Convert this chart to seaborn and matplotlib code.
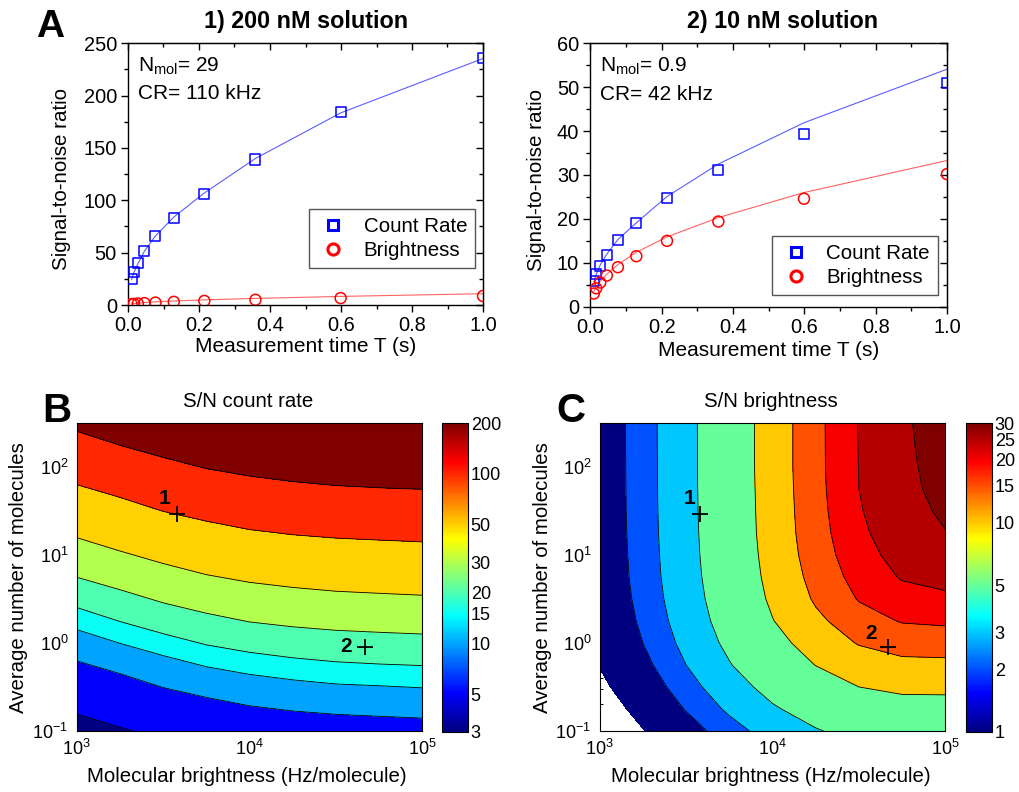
import numpy as np
import matplotlib
matplotlib.use('Agg')
import matplotlib.pyplot as plt
import seaborn as sns
from matplotlib.colors import ListedColormap, LogNorm
from matplotlib.lines import Line2D
from matplotlib import ticker
from matplotlib.cm import ScalarMappable

sns.set_style('ticks')
plt.rcParams['font.family'] = ['Liberation Sans', 'DejaVu Sans']
plt.rcParams['mathtext.fontset'] = 'custom'
plt.rcParams['mathtext.rm'] = 'Liberation Sans'
plt.rcParams['mathtext.it'] = 'Liberation Sans:italic'
plt.rcParams['mathtext.bf'] = 'Liberation Sans:bold'
for k in ['axes.edgecolor', 'text.color', 'xtick.color', 'ytick.color', 'axes.labelcolor']:
    plt.rcParams[k] = 'black'

# ---------------- data ----------------
T = [0.01, 0.0167, 0.0278, 0.0464, 0.0774, 0.129, 0.215, 0.359, 0.599, 1.0]
a1_cr_pts = [24.5, 31.2, 39.8, 51.9, 65.9, 83.1, 106, 139, 184, 235.5]
a1_cr_fit = [24, 31, 39.5, 51.5, 66, 84, 107, 140, 183.5, 235.5]
a1_b_pts = [0.9, 1.1, 1.4, 1.8, 2.3, 3.0, 3.9, 5.0, 6.6, 8.6]
a1_b_fit = [1.1, 1.4, 1.8, 2.3, 3.0, 3.8, 4.9, 6.3, 8.2, 10.8]
a2_cr_pts = [5.85, 7.4, 9.3, 11.8, 15.1, 19.0, 24.75, 31.1, 39.3, 50.9]
a2_cr_fit = [5.7, 7.4, 9.5, 12.0, 15.3, 19.1, 25.1, 32.5, 41.9, 54.1]
a2_b_pts = [3.0, 4.2, 5.5, 7.1, 9.0, 11.5, 15.0, 19.4, 24.6, 30.2]
a2_b_fit = [3.6, 4.6, 5.8, 7.4, 9.6, 12.4, 15.9, 20.3, 26.0, 33.3]

# molecular brightness (Hz/molecule) and average number of molecules of the maps
eps_grid = [1000, 1778, 3162, 5623, 10000, 17783, 31623, 56234, 100000]
N_grid = [0.1, 0.1778, 0.3162, 0.5623, 1.0, 1.778, 3.162, 5.623, 10.0, 17.78,
          31.62, 56.23, 100.0, 177.8, 316.2]

# S/N of count rate, rows = N_grid (bottom to top), columns = eps_grid
snr_cr = [
    [4.03, 4.79, 5.66, 6.5, 7.23, 7.74, 8.13, 8.34, 8.53],
    [5.37, 6.38, 7.55, 8.67, 9.64, 10.3, 10.8, 11.1, 11.4],
    [7.16, 8.51, 10.1, 11.6, 12.9, 13.8, 14.5, 14.8, 15.2],
    [9.55, 11.3, 13.4, 15.4, 17.1, 18.4, 19.3, 19.8, 20.2],
    [12.7, 15.1, 17.9, 20.6, 22.9, 24.5, 25.7, 26.4, 27.0],
    [17.0, 20.2, 23.9, 27.4, 30.5, 32.7, 34.3, 35.2, 36.0],
    [22.6, 26.9, 31.8, 36.6, 40.6, 43.5, 45.7, 46.9, 48.0],
    [30.2, 35.9, 42.5, 48.8, 54.2, 58.1, 61.0, 62.5, 64.0],
    [40.3, 47.9, 56.6, 65.0, 72.3, 77.4, 81.3, 83.4, 85.3],
    [53.7, 63.8, 75.5, 86.7, 96.4, 103, 108, 111, 114],
    [71.6, 85.1, 101, 116, 129, 138, 145, 148, 152],
    [95.5, 113, 134, 154, 171, 184, 193, 198, 202],
    [127, 151, 179, 206, 229, 245, 257, 264, 270],
    [170, 202, 239, 274, 305, 327, 343, 352, 360],
    [226, 269, 318, 366, 406, 435, 457, 469, 480],
]

# S/N of brightness, rows = N_grid (bottom to top), columns = eps_grid
snr_b = [
    [0.568, 0.977, 1.62, 2.55, 3.68, 4.84, 5.96, 6.51, 6.49],
    [0.715, 1.23, 2.06, 3.26, 4.75, 6.3, 7.79, 8.53, 8.52],
    [0.874, 1.51, 2.53, 4.05, 6.0, 8.06, 10.0, 11.0, 11.1],
    [1.03, 1.77, 3.0, 4.88, 7.37, 10.1, 12.6, 14.0, 14.1],
    [1.16, 2.0, 3.42, 5.64, 8.71, 12.2, 15.4, 17.2, 17.5],
    [1.26, 2.18, 3.75, 6.27, 9.88, 14.1, 18.1, 20.4, 21.0],
    [1.33, 2.31, 3.98, 6.73, 10.8, 15.7, 20.4, 23.3, 24.2],
    [1.38, 2.39, 4.13, 7.04, 11.4, 16.9, 22.2, 25.5, 26.8],
    [1.4, 2.43, 4.22, 7.23, 11.8, 17.8, 23.4, 27.1, 28.7],
    [1.42, 2.46, 4.28, 7.34, 12.1, 18.3, 24.2, 28.2, 29.9],
    [1.43, 2.48, 4.31, 7.41, 12.2, 18.6, 24.7, 28.8, 30.7],
    [1.43, 2.49, 4.33, 7.45, 12.3, 18.8, 25.0, 29.2, 31.2],
    [1.44, 2.49, 4.34, 7.47, 12.4, 18.9, 25.1, 29.4, 31.4],
    [1.44, 2.5, 4.34, 7.48, 12.4, 18.9, 25.2, 29.5, 31.6],
    [1.44, 2.5, 4.35, 7.49, 12.4, 18.9, 25.3, 29.6, 31.7],
]

cr_levels = [3, 5, 10, 15, 20, 30, 50, 100, 200]
b_levels = [1, 2, 3, 5, 10, 15, 20, 25, 30]
points_eps = [3790, 46700]
points_N = [29, 0.9]
point_names = ['1', '2']

# ---------------- layout ----------------
W, H = 1019, 792
fig = plt.figure(figsize=(W / 100, H / 100), dpi=100)


def add_ax(x0, y0, x1, y1):
    return fig.add_axes([x0 / W, 1 - y1 / H, (x1 - x0) / W, (y1 - y0) / H])


def ftext(x, y, s, **kw):
    return fig.text(x / W, 1 - y / H, s, **kw)


def matlab_jet(x):
    x = np.asarray(x, dtype=float)
    r = np.clip(1.5 - np.abs(4 * x - 3), 0, 1)
    g = np.clip(1.5 - np.abs(4 * x - 2), 0, 1)
    b = np.clip(1.5 - np.abs(4 * x - 1), 0, 1)
    return np.stack([r, g, b], -1)


jet = ListedColormap(matlab_jet(np.linspace(0, 1, 256)))


def panel_A(ax, cr_pts, cr_fit, b_pts, b_fit, ymax, ymaj, ymin_, anchor, nmol, cr):
    sns.lineplot(x=T, y=cr_fit, ax=ax, color='#5c5cff', lw=0.8, legend=False)
    sns.lineplot(x=T, y=b_fit, ax=ax, color='#ff6262', lw=0.8, legend=False)
    sns.scatterplot(x=T, y=cr_pts, ax=ax, marker='s', s=52, facecolor='none',
                    edgecolor='#0000ff', linewidth=1.1, legend=False, zorder=3)
    sns.scatterplot(x=T, y=b_pts, ax=ax, marker='o', s=62, facecolor='none',
                    edgecolor='#ff0000', linewidth=1.1, legend=False, zorder=3)
    ax.set_xlim(0, 1)
    ax.set_ylim(0, ymax)
    ax.set_xlabel('')
    ax.set_ylabel('')
    ax.xaxis.set_major_locator(ticker.MultipleLocator(0.2))
    ax.xaxis.set_minor_locator(ticker.MultipleLocator(0.1))
    ax.xaxis.set_major_formatter(ticker.FormatStrFormatter('%.1f'))
    ax.yaxis.set_major_locator(ticker.MultipleLocator(ymaj))
    ax.yaxis.set_minor_locator(ticker.MultipleLocator(ymin_))
    ax.tick_params(which='both', direction='out', top=False, right=False,
                   labelsize=14.4, width=1, pad=3)
    ax.tick_params(which='major', length=5)
    ax.tick_params(which='minor', length=3)
    for s in ax.spines.values():
        s.set_linewidth(1)
    sx = ax.secondary_xaxis('top')
    sx.xaxis.set_major_locator(ticker.MultipleLocator(0.2))
    sx.xaxis.set_minor_locator(ticker.MultipleLocator(0.1))
    sx.xaxis.set_major_formatter(ticker.NullFormatter())
    sx.tick_params(which='both', direction='in', width=1)
    sx.tick_params(which='major', length=5)
    sx.tick_params(which='minor', length=3)
    sy = ax.secondary_yaxis('right')
    sy.yaxis.set_major_locator(ticker.MultipleLocator(ymaj))
    sy.yaxis.set_minor_locator(ticker.MultipleLocator(ymin_))
    sy.yaxis.set_major_formatter(ticker.NullFormatter())
    sy.tick_params(which='both', direction='in', width=1)
    sy.tick_params(which='major', length=5)
    sy.tick_params(which='minor', length=3)
    handles = [Line2D([], [], ls='none', marker='s', ms=7, mfc='none', mec='#0000ff', mew=2.2),
               Line2D([], [], ls='none', marker='o', ms=8, mfc='none', mec='#ff0000', mew=2.2)]
    leg = ax.legend(handles, ['Count Rate', 'Brightness'], loc='upper left',
                    bbox_to_anchor=anchor, fontsize=14.8, frameon=True, fancybox=False,
                    edgecolor='#555555', framealpha=1, borderpad=0.4, handlelength=1.5,
                    handletextpad=0.75, labelspacing=0.22, borderaxespad=0)
    leg.get_frame().set_linewidth(1)
    ax.text(0.028, 0.892, r'N$_{\mathrm{mol}}$= ' + nmol, transform=ax.transAxes,
            fontsize=15, va='baseline', ha='left')
    ax.text(0.028, 0.786, 'CR= ' + cr, transform=ax.transAxes,
            fontsize=15, va='baseline', ha='left')


axA1 = add_ax(128, 43.3, 483, 305)
panel_A(axA1, a1_cr_pts, a1_cr_fit, a1_b_pts, a1_b_fit, 250, 50, 25,
        (0.51, 0.367), '29', '110 kHz')
axA2 = add_ax(590.3, 43.3, 947, 306.7)
panel_A(axA2, a2_cr_pts, a2_cr_fit, a2_b_pts, a2_b_fit, 60, 10, 5,
        (0.5094, 0.2684), '0.9', '42 kHz')

ftext(36, 37, 'A', fontsize=28, fontweight='bold', va='baseline', ha='left')
ftext(305.7, 28.3, '1) 200 nM solution', fontsize=16.8, fontweight='bold', ha='center', va='baseline')
ftext(782.5, 28.3, '2) 10 nM solution', fontsize=16.8, fontweight='bold', ha='center', va='baseline')
ftext(61.7, 178.7, 'Signal-to-noise ratio', fontsize=14.8, rotation=90, ha='center', va='center')
ftext(536, 180, 'Signal-to-noise ratio', fontsize=14.8, rotation=90, ha='center', va='center')
ftext(305.8, 346.7, 'Measurement time T (s)', fontsize=15, ha='center', va='center')
ftext(769, 350, 'Measurement time T (s)', fontsize=15, ha='center', va='center')


def panel_contour(ax, cax, Z, levels, line_levels, offsets):
    vmin, vmax = levels[0], levels[-1]
    norm = LogNorm(vmin, vmax)
    band_cols = [jet(norm(l)) for l in levels]
    ax.contourf(eps_grid, N_grid, Z, levels=list(levels) + [1e9], colors=band_cols)
    ax.contour(eps_grid, N_grid, Z, levels=line_levels, colors='k', linewidths=0.6)
    ax.set_xscale('log')
    ax.set_yscale('log')
    ax.set_xlim(1e3, 1e5)
    ax.set_ylim(0.1, 310)
    ax.tick_params(which='both', direction='in', top=True, right=True, width=0.7,
                   labelsize=13, pad=6)
    ax.tick_params(which='major', length=5)
    ax.tick_params(which='minor', length=2.5)
    for s in ax.spines.values():
        s.set_linewidth(0.8)
    ax.plot(points_eps, points_N, ls='none', marker='+', ms=12, mew=1.3, color='k', zorder=5)
    for e, n, name, off in zip(points_eps, points_N, point_names, offsets):
        ax.annotate(name, (e, n), xytext=off, textcoords='offset points', ha='center',
                    va='center', fontsize=15, fontweight='bold', zorder=6)
    cb = fig.colorbar(ScalarMappable(norm=norm, cmap=jet), cax=cax, ticks=levels)
    cb.ax.yaxis.set_major_formatter(ticker.FixedFormatter([str(l) for l in levels]))
    cb.ax.minorticks_off()
    cb.ax.tick_params(which='both', direction='in', left=True, right=True, length=4,
                      width=0.7, labelsize=13, pad=2)
    cb.outline.set_linewidth(0.8)


axB = add_ax(76.7, 423.3, 422.3, 731)
caxB = add_ax(442, 423, 468, 732)
panel_contour(axB, caxB, snr_cr, cr_levels, cr_levels[1:], [(-8.6, 10.8), (-13.5, 0.5)])
axC = add_ax(599.7, 423.3, 945.3, 731)
caxC = add_ax(965.5, 423, 992, 732)
panel_contour(axC, caxC, snr_b, b_levels, b_levels[1:], [(-7.2, 10.8), (-12.5, 9.8)])

ftext(42.7, 421.7, 'B', fontsize=29, fontweight='bold', va='baseline', ha='left')
ftext(556, 421.7, 'C', fontsize=29, fontweight='bold', va='baseline', ha='left')
ftext(248, 407.3, 'S/N count rate', fontsize=14.7, ha='center', va='baseline')
ftext(771.3, 407.3, 'S/N brightness', fontsize=14.7, ha='center', va='baseline')
ftext(247.3, 776.7, 'Molecular brightness (Hz/molecule)', fontsize=14.7, ha='center', va='center')
ftext(770.5, 776.7, 'Molecular brightness (Hz/molecule)', fontsize=14.7, ha='center', va='center')
ftext(18.3, 577.5, 'Average number of molecules', fontsize=14.7, rotation=90, ha='center', va='center')
ftext(542.7, 577.5, 'Average number of molecules', fontsize=14.7, rotation=90, ha='center', va='center')

fig.savefig('out.png', dpi=100)
